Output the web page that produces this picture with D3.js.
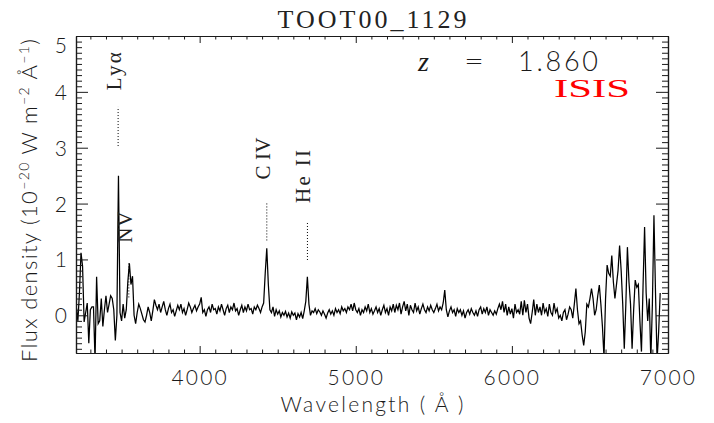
<!DOCTYPE html>
<html><head><meta charset="utf-8">
<script src="https://cdn.jsdelivr.net/npm/d3@7"></script>
<style>body{margin:0;background:#fff}svg{display:block}</style>
</head><body><svg id="c" width="714" height="423"></svg>
<script>
// ---------------- data ----------------
const titleText = "TOOT00_1129";
const instrument = "ISIS";
const redshift = 1.860;
const xTicks = [4000, 5000, 6000, 7000];
const yTicks = [0, 1, 2, 3, 4, 5];
const lineNames = ["Lyα", "N V", "C IV", "He II"];
const restWavelengths = [1216, 1240, 1549, 1640];
// [wavelength (Å), flux density]
const spectrum = [
[3210,0.15],[3220,-0.1],[3230,0.4],[3240,1.12],[3250,0.88],[3260,-0.12],[3270,0.05],[3280,0.22],[3290,-0.5],[3300,0.1],
[3310,0.15],[3320,0.15],[3330,-0.8],[3340,0.69],[3350,-0.15],[3360,-0.1],[3370,0.3],[3380,-0.2],[3390,0.1],[3400,0.35],
[3410,0.05],[3420,0.2],[3430,0.35],[3440,0.3],[3450,0.1],[3460,-0.45],[3470,0.0],[3480,2.5],[3490,0.05],[3500,-0.1],
[3510,0.2],[3520,-0.05],[3530,0.1],[3540,0.6],[3550,0.93],[3560,0.55],[3570,0.7],[3580,0.0],[3590,-0.15],[3600,0.05],
[3610,0.2],[3620,0.12],[3630,0.02],[3640,-0.08],[3650,-0.12],[3660,0.0],[3670,0.15],[3680,0.05],[3690,-0.1],[3700,0.08],
[3710,0.28],[3720,0.18],[3730,0.1],[3740,0.2],[3750,0.05],[3760,0.15],[3770,0.25],[3780,0.1],[3790,0.0],[3800,0.12],
[3810,0.2],[3820,0.05],[3830,0.1],[3840,-0.02],[3850,0.08],[3860,0.18],[3870,0.1],[3880,0.2],[3890,0.05],[3900,0.12],
[3910,0.0],[3920,0.1],[3930,0.22],[3940,0.15],[3950,0.05],[3960,0.12],[3970,0.18],[3980,0.08],[3990,0.15],[4000,0.2],
[4010,0.32],[4020,0.05],[4030,0.1],[4040,-0.02],[4050,0.1],[4060,0.15],[4070,0.05],[4080,0.2],[4090,0.1],[4100,0.12],
[4110,0.02],[4120,0.15],[4130,0.08],[4140,0.2],[4150,0.1],[4160,0.0],[4170,0.12],[4180,0.18],[4190,0.05],[4200,0.15],
[4210,0.1],[4220,0.22],[4230,0.08],[4240,0.12],[4250,0.0],[4260,0.1],[4270,0.18],[4280,0.05],[4290,0.15],[4300,0.08],
[4310,0.2],[4320,0.1],[4330,0.12],[4340,0.02],[4350,0.15],[4360,0.1],[4370,0.18],[4380,0.12],[4390,0.05],[4400,0.15],
[4410,0.22],[4420,0.75],[4430,1.2],[4440,0.55],[4450,0.1],[4460,0.05],[4470,0.15],[4480,-0.02],[4490,0.1],[4500,0.02],
[4510,0.08],[4520,-0.03],[4530,0.05],[4540,0.0],[4550,0.07],[4560,-0.03],[4570,0.04],[4580,-0.05],[4590,0.06],[4600,0.0],
[4610,0.04],[4620,-0.08],[4630,0.03],[4640,-0.03],[4650,0.05],[4660,-0.06],[4670,0.08],[4680,0.25],[4690,0.69],[4700,0.2],
[4710,0.0],[4720,0.08],[4730,0.05],[4740,0.12],[4750,0.03],[4760,0.1],[4770,0.06],[4780,0.0],[4790,0.08],[4800,0.02],
[4810,-0.05],[4820,0.04],[4830,0.1],[4840,0.02],[4850,0.08],[4860,0.0],[4870,0.12],[4880,0.05],[4890,0.1],[4900,0.03],
[4910,0.15],[4920,0.08],[4930,0.12],[4940,0.05],[4950,0.15],[4960,0.1],[4970,0.2],[4980,0.08],[4990,0.22],[5000,0.1],
[5010,0.05],[5020,0.12],[5030,0.0],[5040,0.1],[5050,0.05],[5060,0.15],[5070,0.08],[5080,0.2],[5090,0.05],[5100,0.12],
[5110,0.02],[5120,0.08],[5130,0.15],[5140,0.05],[5150,0.12],[5160,0.0],[5170,0.1],[5180,0.18],[5190,0.05],[5200,0.12],
[5210,0.0],[5220,0.15],[5230,0.08],[5240,0.2],[5250,0.05],[5260,0.18],[5270,0.1],[5280,0.22],[5290,0.02],[5300,0.15],
[5310,0.25],[5320,0.08],[5330,0.2],[5340,0.0],[5350,0.18],[5360,0.1],[5370,0.05],[5380,0.22],[5390,0.08],[5400,0.15],
[5410,0.02],[5420,0.12],[5430,0.2],[5440,0.1],[5450,0.05],[5460,0.15],[5470,0.08],[5480,0.18],[5490,0.1],[5500,0.05],
[5510,0.12],[5520,0.2],[5530,0.08],[5540,0.15],[5550,0.1],[5560,0.22],[5570,0.45],[5580,0.1],[5590,-0.03],[5600,0.08],
[5610,0.15],[5620,0.05],[5630,0.1],[5640,-0.02],[5650,0.12],[5660,0.05],[5670,0.1],[5680,0.0],[5690,0.08],[5700,-0.05],
[5710,0.05],[5720,0.1],[5730,0.02],[5740,0.12],[5750,0.05],[5760,0.0],[5770,0.08],[5780,-0.02],[5790,0.1],[5800,0.15],
[5810,0.02],[5820,0.12],[5830,0.05],[5840,0.15],[5850,0.0],[5860,0.1],[5870,0.05],[5880,0.0],[5890,0.08],[5900,0.02],
[5910,0.12],[5920,0.2],[5930,0.1],[5940,0.25],[5950,0.05],[5960,0.2],[5970,0.0],[5980,0.15],[5990,0.02],[6000,0.12],
[6010,-0.05],[6020,0.2],[6030,0.05],[6040,0.1],[6050,0.02],[6060,0.25],[6070,0.0],[6080,0.27],[6090,0.05],[6100,0.2],
[6110,-0.05],[6120,-0.15],[6130,0.05],[6140,0.28],[6150,0.0],[6160,0.2],[6170,0.05],[6180,0.15],[6190,0.0],[6200,0.22],
[6210,0.05],[6220,0.12],[6230,-0.02],[6240,0.2],[6250,0.05],[6260,0.0],[6270,0.22],[6280,0.05],[6290,0.12],[6300,-0.05],
[6310,0.0],[6320,-0.1],[6330,0.05],[6340,0.1],[6350,-0.08],[6360,0.02],[6370,0.15],[6380,0.1],[6390,-0.05],[6400,0.2],
[6410,0.48],[6420,0.1],[6430,-0.15],[6440,-0.1],[6450,-0.35],[6460,-0.54],[6470,-0.3],[6480,0.2],[6490,0.15],[6500,0.3],
[6510,0.48],[6520,0.3],[6530,0.0],[6540,0.1],[6550,0.35],[6560,0.54],[6570,0.2],[6580,-0.2],[6590,-0.75],[6600,0.3],
[6610,0.9],[6620,0.75],[6630,0.7],[6640,1.07],[6650,0.6],[6660,0.3],[6670,0.55],[6680,0.8],[6690,1.25],[6700,0.8],
[6710,0.2],[6720,-0.6],[6730,0.2],[6740,1.22],[6750,0.6],[6760,0.2],[6770,-0.6],[6780,0.1],[6790,0.63],[6800,0.5],
[6810,0.55],[6820,-0.1],[6830,-0.65],[6840,0.5],[6850,1.58],[6860,0.4],[6870,-0.1],[6880,0.3],[6890,-0.8],[6900,0.2],
[6910,1.79],[6920,0.4],[6930,-0.8],[6940,-0.3],[6950,0.4]
];

// ---------------- layout ----------------
const M = {l: 76, r: 668, t: 36, b: 353};
const xDomain = [3208, 7000], yDomain = [-0.675, 5];
// marker layout per line (data units): bottom of dotted segment, dotted length, gap to label; label length (px)
const markerBottom = [3.03, 0.32, 1.34, 0.99];
const markerLen = [0.7, 0.62, 0.69, 0.68];
const labelGap = [0.3, 0.36, 0.4, 0.34];
const labelLen = [38, 31, 42, 53];

const svg = d3.select("#c");
const x = d3.scaleLinear().domain(xDomain).range([M.l, M.r]);
const y = d3.scaleLinear().domain(yDomain).range([M.b, M.t]);
const ink = "#1a1a1a";
const sans = "Lato, 'Liberation Sans', sans-serif";
const sansW = 300;
const serif = "'Liberation Serif', 'Times New Roman', serif";

svg.append("clipPath").attr("id", "clip").append("rect")
  .attr("x", M.l).attr("y", M.t).attr("width", M.r - M.l).attr("height", M.b - M.t);

// spectrum
svg.append("path").datum(spectrum)
  .attr("clip-path", "url(#clip)")
  .attr("fill", "none").attr("stroke", "#000").attr("stroke-width", 1.25)
  .attr("d", d3.line().x(d => x(d[0])).y(d => y(d[1])));

// axes
const xMinor = d3.range(3300, 7000, 100).filter(v => v % 1000 !== 0);
const yMinor = d3.range(-6, 50).map(v => v / 10).filter(v => Math.abs(v - Math.round(v)) > 1e-6);
function styleAxis(g) {
  g.select(".domain").attr("stroke", ink).attr("stroke-width", 1.2);
  g.selectAll(".tick line").attr("stroke", ink).attr("stroke-width", 1);
}
function styleLabels(sel) {
  sel.attr("font-family", sans).attr("font-weight", sansW).attr("font-size", 21).attr("fill", ink);
}
// bottom
svg.append("g").attr("transform", `translate(0,${M.b})`)
  .call(d3.axisBottom(x).tickValues(xMinor).tickSize(-3.5).tickSizeOuter(0).tickFormat(""))
  .call(styleAxis);
const gB = svg.append("g").attr("transform", `translate(0,${M.b})`)
  .call(d3.axisBottom(x).tickValues(xTicks).tickSize(-7).tickSizeOuter(0).tickFormat(d3.format("d")))
  .call(styleAxis);
gB.selectAll(".tick text").attr("y", 32).attr("dy", 0).attr("letter-spacing", 2.2).call(styleLabels);
// top
svg.append("g").attr("transform", `translate(0,${M.t})`)
  .call(d3.axisTop(x).tickValues(xMinor).tickSize(-3.5).tickSizeOuter(0).tickFormat(""))
  .call(styleAxis);
svg.append("g").attr("transform", `translate(0,${M.t})`)
  .call(d3.axisTop(x).tickValues(xTicks).tickSize(-7).tickSizeOuter(0).tickFormat(""))
  .call(styleAxis);
// left
svg.append("g").attr("transform", `translate(${M.l},0)`)
  .call(d3.axisLeft(y).tickValues(yMinor).tickSize(-6).tickSizeOuter(0).tickFormat(""))
  .call(styleAxis);
const gL = svg.append("g").attr("transform", `translate(${M.l},0)`)
  .call(d3.axisLeft(y).tickValues(yTicks).tickSize(-12).tickSizeOuter(0).tickFormat(d3.format("d")))
  .call(styleAxis);
gL.selectAll(".tick text").attr("x", -9).attr("dy", "0.36em").call(styleLabels);
gL.selectAll(".tick").filter(d => d === 5).select("text").attr("dy", "0.8em");
// right
svg.append("g").attr("transform", `translate(${M.r},0)`)
  .call(d3.axisRight(y).tickValues(yMinor).tickSize(-6).tickSizeOuter(0).tickFormat(""))
  .call(styleAxis);
svg.append("g").attr("transform", `translate(${M.r},0)`)
  .call(d3.axisRight(y).tickValues(yTicks).tickSize(-12).tickSizeOuter(0).tickFormat(""))
  .call(styleAxis);

// line markers
lineNames.forEach((name, i) => {
  const lx = x(restWavelengths[i] * (1 + redshift));
  const y0 = markerBottom[i], y1 = y0 + markerLen[i];
  svg.append("line").attr("x1", lx).attr("x2", lx).attr("y1", y(y0)).attr("y2", y(y1))
    .attr("stroke", "#000").attr("stroke-width", 1).attr("stroke-dasharray", "1,2");
  const ty = y(y1 + labelGap[i]);
  svg.append("text").attr("transform", `translate(${lx + 3},${ty}) rotate(-90)`)
    .attr("font-family", serif).attr("font-size", 21).attr("fill", "#222")
    .attr("textLength", labelLen[i]).attr("lengthAdjust", "spacing")
    .text(name);
});

// title
svg.append("text").attr("x", (M.l + M.r) / 2).attr("y", 28).attr("text-anchor", "middle")
  .attr("font-family", serif).attr("font-size", 26).attr("fill", "#222")
  .attr("textLength", 189).attr("lengthAdjust", "spacing").text(titleText);

// redshift annotation
svg.append("text").attr("x", 418).attr("y", 71).attr("font-family", serif).attr("font-style", "italic")
  .attr("font-size", 28).attr("fill", ink).text("z");
svg.append("text").attr("x", 464).attr("y", 71).attr("font-family", sans).attr("font-weight", sansW)
  .attr("font-size", 28).attr("fill", ink).attr("textLength", 20).attr("lengthAdjust", "spacingAndGlyphs").text("=");
svg.append("text").attr("x", 518).attr("y", 71).attr("font-family", sans).attr("font-weight", sansW)
  .attr("font-size", 27).attr("fill", ink).attr("textLength", 80).attr("lengthAdjust", "spacing")
  .text(redshift.toFixed(3));
svg.append("text").attr("x", 554).attr("y", 97).attr("font-family", serif)
  .attr("font-size", 25).attr("fill", "#ff0000")
  .attr("textLength", 76).attr("lengthAdjust", "spacingAndGlyphs")
  .text(instrument);

// axis titles
svg.append("text").attr("x", (M.l + M.r) / 2).attr("y", 412).attr("text-anchor", "middle")
  .attr("font-family", sans).attr("font-weight", sansW).attr("font-size", 21).attr("fill", ink)
  .attr("textLength", 183).attr("lengthAdjust", "spacing").text("Wavelength ( Å )");
const yt = svg.append("text").attr("transform", `translate(37,${(M.t + M.b) / 2 + 6}) rotate(-90)`)
  .attr("text-anchor", "middle").attr("font-family", sans).attr("font-weight", sansW)
  .attr("font-size", 22).attr("fill", ink)
  .attr("textLength", 323).attr("lengthAdjust", "spacing");
yt.append("tspan").text("Flux density (10");
yt.append("tspan").attr("font-size", 14).attr("dy", -8).text("−20");
yt.append("tspan").attr("dy", 8).text(" W m");
yt.append("tspan").attr("font-size", 14).attr("dy", -8).text("−2");
yt.append("tspan").attr("dy", 8).text(" Å");
yt.append("tspan").attr("font-size", 14).attr("dy", -8).text("−1");
yt.append("tspan").attr("dy", 8).text(")");
</script>
</body></html>
